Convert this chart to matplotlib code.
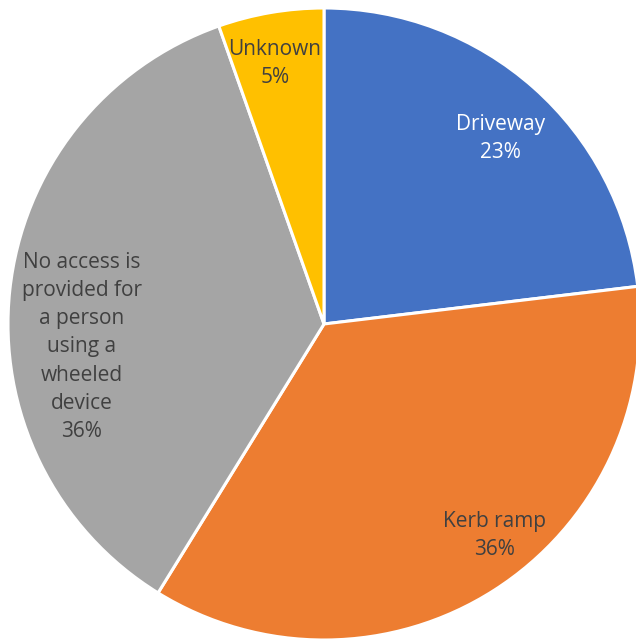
import matplotlib.pyplot as plt
import numpy as np

# wedge data, clockwise from 12 o'clock
categories = ['Driveway', 'Kerb ramp',
              'No access is\nprovided for\na person\nusing a\nwheeled\ndevice',
              'Unknown']
values = [23.1, 35.7, 35.8, 5.4]
colors = ['#4472C4', '#ED7D31', '#A5A5A5', '#FFC000']
text_colors = ['white', '#404040', '#404040', '#404040']

# label distance (fraction of radius) and angle tweak (deg) per wedge
label_dist = [0.81, 0.86, 0.77, 0.84]
label_shift = [-2.1, 6.3, 11.5, 0.9]

R = 316
fig = plt.figure(figsize=(6.36, 6.42), dpi=100)
ax = fig.add_axes([0, 0, 1, 1])

wedges, _ = ax.pie(values, colors=colors, startangle=90, counterclock=False,
                   radius=R, center=(0, 0),
                   wedgeprops=dict(edgecolor='white', linewidth=2.2))

total = sum(values)
for w, cat, v, tc, d, s in zip(wedges, categories, values, text_colors,
                                label_dist, label_shift):
    mid = (w.theta1 + w.theta2) / 2 + s
    x = d * R * np.cos(np.radians(mid))
    y = d * R * np.sin(np.radians(mid))
    ax.text(x, y, f'{cat}\n{v / total * 100:.0f}%', ha='center', va='center',
            color=tc, fontsize=15, family='Open Sans', linespacing=1.45)

ax.set_xlim(-324, 636 - 324)
ax.set_ylim(-(642 - 324), 324)
ax.set_aspect('equal')
ax.axis('off')

fig.savefig('out.png', dpi=100)
